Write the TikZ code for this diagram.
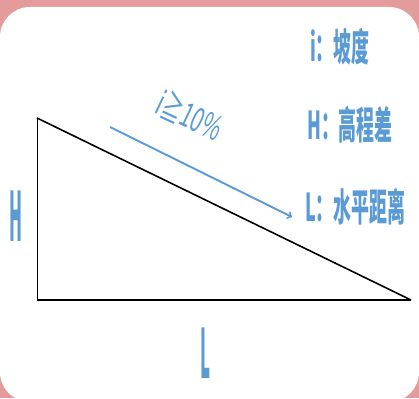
\documentclass[tikz,border=0pt]{standalone}
\usepackage{fontspec}
\usepackage{graphicx}
\newfontfamily\cjk{Noto Sans CJK SC}
\definecolor{framepink}{HTML}{E39B9B}
\definecolor{labelblue}{HTML}{5B9BD5}

\begin{document}
\begin{tikzpicture}[x=1pt,y=-1pt,
    lbl/.style={text=labelblue,inner sep=0pt,font=\cjk\bfseries\fontsize{32}{32}\selectfont},
    side/.style={text=labelblue,inner sep=0pt,font=\cjk\bfseries\fontsize{40}{40}\selectfont}]
  \useasboundingbox (0,0) rectangle (419,398);
  \fill[framepink] (0,0) rectangle (419,398);
  \fill[white,rounded corners=30pt] (0,7) rectangle (419,402);

  % triangle
  \coordinate (top) at (37,118);
  \coordinate (foot) at (37,300);
  \coordinate (tip) at (411,300);
  \draw[line width=0.9pt] (top) -- (foot);
  \draw[line width=2.2pt] (foot) -- (tip);
  \draw[line width=1.6pt] (top) -- (tip);

  % slope arrow
  \coordinate (arrowstart) at (110,127);
  \coordinate (arrowend) at (292,217);
  \draw[labelblue,line width=1.9pt,->] (arrowstart) -- (arrowend);
  \node[text=labelblue,inner sep=0pt,rotate=-25,font=\cjk\fontsize{32}{32}\selectfont] (slope) at (190,115)
    {\scalebox{0.65}[1.05]{\itshape i\upshape≧10\%}};

  % side names
  \node[side] (hname) at (16,216) {\scalebox{0.42}[1.7]{H}};
  \node[side] (lname) at (206,353) {\scalebox{0.42}[1.7]{L}};

  % legend
  \node[lbl,anchor=west] (keyi) at (310,47) {\scalebox{0.56}[1.2]{i：坡度}};
  \node[lbl,anchor=west] (keyh) at (307,125) {\scalebox{0.56}[1.2]{H：高程差}};
  \node[lbl,anchor=west] (keyl) at (305,207) {\scalebox{0.56}[1.2]{L：水平距离}};
\end{tikzpicture}
\end{document}
